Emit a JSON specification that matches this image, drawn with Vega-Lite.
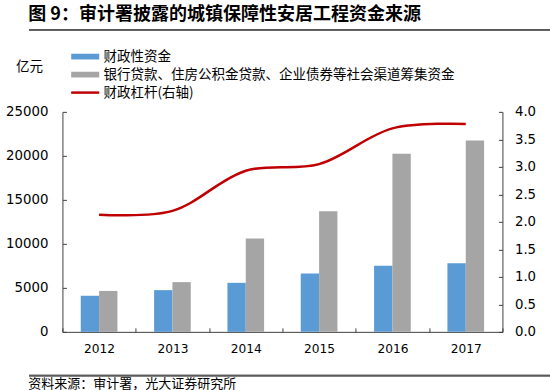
{
  "$schema": "https://vega.github.io/schema/vega-lite/v6.json",
  "padding": {"left": 5, "top": 5, "right": 5, "bottom": 0},
  "background": "white",
  "spacing": 18.85,
  "center": true,
  "resolve": {"scale": {"color": "independent"}, "legend": {"color": "independent"}},
  "config": {
    "view": {"stroke": null},
    "font": "Noto Sans CJK SC"
  },
  "datasets": {
    "bars": [
      {"year": "2012", "series": "财政性资金", "value": 4100},
      {"year": "2012", "series": "银行贷款、住房公积金贷款、企业债券等社会渠道筹集资金", "value": 4650},
      {"year": "2013", "series": "财政性资金", "value": 4740},
      {"year": "2013", "series": "银行贷款、住房公积金贷款、企业债券等社会渠道筹集资金", "value": 5650},
      {"year": "2014", "series": "财政性资金", "value": 5570},
      {"year": "2014", "series": "银行贷款、住房公积金贷款、企业债券等社会渠道筹集资金", "value": 10600},
      {"year": "2015", "series": "财政性资金", "value": 6630},
      {"year": "2015", "series": "银行贷款、住房公积金贷款、企业债券等社会渠道筹集资金", "value": 13700},
      {"year": "2016", "series": "财政性资金", "value": 7500},
      {"year": "2016", "series": "银行贷款、住房公积金贷款、企业债券等社会渠道筹集资金", "value": 20230},
      {"year": "2017", "series": "财政性资金", "value": 7800},
      {"year": "2017", "series": "银行贷款、住房公积金贷款、企业债券等社会渠道筹集资金", "value": 21740}
    ],
    "lev": [
      {"year": "2012", "lev": 2.13},
      {"year": "2013", "lev": 2.20},
      {"year": "2014", "lev": 2.93},
      {"year": "2015", "lev": 3.05},
      {"year": "2016", "lev": 3.70},
      {"year": "2017", "lev": 3.78}
    ]
  },
  "vconcat": [
    {
      "title": {"text": "图 9：审计署披露的城镇保障性安居工程资金来源", "anchor": "start", "orient": "top", "fontSize": 18, "fontWeight": "bold", "font": "Noto Sans CJK SC", "color": "#000000", "offset": 5.5},
      "width": 539,
      "height": 1.7,
      "view": {"fill": "#595959", "stroke": null},
      "data": {"values": [{}]},
      "mark": {"type": "rule", "color": "#595959", "strokeWidth": 1.7},
      "encoding": {
        "x": {"datum": 0, "type": "quantitative", "scale": {"domain": [0, 1], "nice": false, "zero": false}, "axis": null},
        "x2": {"datum": 1},
        "y": {"datum": 0.5, "type": "quantitative", "scale": {"domain": [0, 1], "nice": false}, "axis": null}
      }
    },
    {
      "width": 440,
      "height": 220,
      "layer": [
        {
          "data": {"name": "bars"},
          "mark": {"type": "bar"},
          "encoding": {
            "x": {"field": "year", "type": "nominal", "scale": {"paddingInner": 0, "paddingOuter": 0},
              "axis": {"title": null, "labelAngle": 0, "tickBand": "extent", "tickSize": -4, "domainColor": "#404040", "tickColor": "#404040", "labelFont": "DejaVu Sans", "labelFontSize": 12.2, "labelColor": "#000000", "labelPadding": 15}},
            "xOffset": {"field": "series", "type": "nominal", "sort": ["财政性资金", "银行贷款、住房公积金贷款、企业债券等社会渠道筹集资金"], "scale": {"paddingInner": 0, "paddingOuter": 1.083}},
            "y": {"field": "value", "type": "quantitative", "scale": {"domain": [0, 25000]},
              "axis": {"values": [0, 5000, 10000, 15000, 20000, 25000], "format": "d", "grid": false, "title": "亿元", "titleAngle": 0, "titleX": -33.5, "titleY": -45.3, "titleAlign": "center", "titleBaseline": "middle", "titleFontSize": 13.5, "titleFontWeight": "normal", "titleFont": "Noto Sans CJK SC", "titleColor": "#000000", "tickSize": -4, "labelPadding": 18.5, "labelFont": "DejaVu Sans", "labelFontSize": 13.3, "labelColor": "#000000", "domainColor": "#404040", "tickColor": "#404040"}},
            "color": {"field": "series", "type": "nominal",
              "scale": {"domain": ["财政性资金", "银行贷款、住房公积金贷款、企业债券等社会渠道筹集资金", "财政杠杆(右轴)"], "range": ["#5B9BD5", "#A5A5A5", "#C00000"]},
              "legend": {"title": null, "orient": "top", "offset": 11.8, "direction": "vertical", "labelFont": "Noto Sans CJK SC", "labelFontSize": 13.5, "labelColor": "#000000", "labelOffset": 27.5, "labelLimit": 600, "symbolSize": 169, "symbolStrokeWidth": 0, "rowPadding": 3, "padding": 0,
                "encode": {"symbols": {"update": {"shape": {"signal": "datum.value === '财政杠杆(右轴)' ? 'M0.31,-0.19H4.62V0.19H0.31Z' : 'M0.31,-0.44H4.62V0.44H0.31Z'"}}}}}}
          }
        },
        {
          "data": {"name": "lev"},
          "mark": {"type": "line", "strokeWidth": 2.5, "interpolate": "catmull-rom"},
          "encoding": {
            "x": {"field": "year", "type": "nominal"},
            "y": {"field": "lev", "type": "quantitative", "scale": {"domain": [0, 4]},
              "axis": {"orient": "right", "values": [0, 0.5, 1, 1.5, 2, 2.5, 3, 3.5, 4], "format": ".1f", "grid": false, "title": null, "tickSize": -4, "labelPadding": 16, "labelFont": "DejaVu Sans", "labelFontSize": 13.3, "labelColor": "#000000", "domainColor": "#404040", "tickColor": "#404040"}},
            "color": {"datum": "财政杠杆(右轴)"}
          }
        }
      ],
      "resolve": {"scale": {"y": "independent"}}
    },
    {
      "title": {"text": "资料来源：审计署，光大证券研究所", "orient": "bottom", "anchor": "start", "fontSize": 13, "fontWeight": "normal", "font": "Noto Sans CJK SC", "color": "#000000", "offset": 1.5},
      "width": 539,
      "height": 1.7,
      "view": {"fill": "#595959", "stroke": null},
      "data": {"values": [{}]},
      "mark": {"type": "rule", "color": "#595959", "strokeWidth": 1.7},
      "encoding": {
        "x": {"datum": 0, "type": "quantitative", "scale": {"domain": [0, 1], "nice": false, "zero": false}, "axis": null},
        "x2": {"datum": 1},
        "y": {"datum": 0.5, "type": "quantitative", "scale": {"domain": [0, 1], "nice": false}, "axis": null}
      }
    }
  ]
}
